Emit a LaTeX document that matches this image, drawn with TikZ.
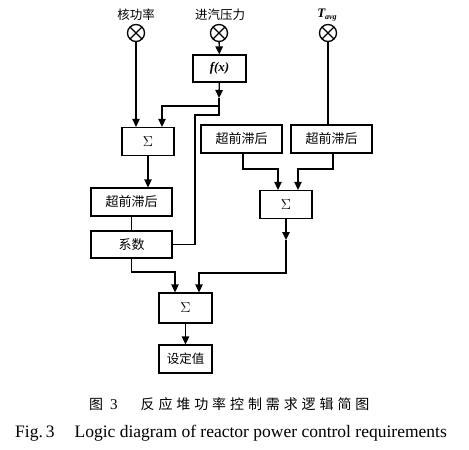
\documentclass[tikz,border=0pt]{standalone}
\usepackage{fontspec}
\setmainfont{Liberation Serif}
\newfontfamily\cjk{Noto Sans CJK SC}
\usetikzlibrary{arrows.meta}
\newcommand\cc[1]{\makebox[17.9pt]{#1}}
\begin{document}
\begin{tikzpicture}[x=1pt,y=-1pt,
  every node/.style={inner sep=0pt},
  line/.style={line width=1.3pt},
  arr/.style={line width=1.3pt,-{Triangle[length=8pt,width=7.5pt]}},
  blk/.style={draw,line width=1.3pt,minimum width=#1,minimum height=28pt,font=\cjk\fontsize{13}{13}\selectfont},
  blk/.default=52pt,
  lbl/.style={font=\cjk\fontsize{12.5}{12.5}\selectfont},
  sensor/.style={circle,draw,line width=1.3pt,minimum size=17pt,
    path picture={\draw[line width=1.3pt] (path picture bounding box.north west)--(path picture bounding box.south east)
      (path picture bounding box.north east)--(path picture bounding box.south west);}},
  sig/.style={font=\fontsize{14}{14}\selectfont}]
\useasboundingbox (0,0) rectangle (469,450);
% labels and sensors
\node[lbl] (l1) at (136,15) {核功率};
\node[lbl] (l2) at (220,15) {进汽压力};
\node (l3) at (327,15) {\fontsize{13}{13}\selectfont\bfseries\itshape T\raisebox{-2.5pt}{\fontsize{8}{8}\selectfont avg}};
\node[sensor] (s1) at (136,33) {};
\node[sensor] (s2) at (219,33) {};
\node[sensor] (s3) at (328,33) {};
% blocks
\node[draw,line width=1.3pt,minimum width=53pt,minimum height=27pt,font=\fontsize{13}{13}\selectfont\bfseries\itshape] (fx) at (219.5,68.5) {f(x)};
\node[blk,sig] (sum1) at (148,141.5) {$\Sigma$};
\node[blk=81pt] (lead1) at (131.5,202) {超前滞后};
\node[blk=81pt,minimum height=27pt] (coef) at (131.5,244.5) {系数};
\node[blk=81pt] (lead2) at (241.5,139) {超前滞后};
\node[blk=81pt] (lead3) at (331.5,139) {超前滞后};
\node[blk,sig] (sum2) at (286,204.5) {$\Sigma$};
\node[blk=53pt,sig,minimum height=30pt] (sum3) at (185.5,308) {$\Sigma$};
\node[blk=53pt,minimum height=28pt,font=\cjk\fontsize{12.5}{12.5}\selectfont] (set) at (185.5,359) {设定值};
% coordinates
\coordinate (a1) at (219,98);
\coordinate (a2) at (219,106);
\coordinate (a3) at (219,115);
\coordinate (a4) at (195,115);
\coordinate (a5) at (195,244.5);
\coordinate (b1) at (162,106);
\coordinate (c1) at (131.5,272);
\coordinate (c2) at (175,272);
\coordinate (d1) at (243,169);
\coordinate (d2) at (278,169);
\coordinate (e1) at (333,169);
\coordinate (e2) at (298,169);
\coordinate (g1) at (286,240);
\coordinate (g2) at (286,273);
\coordinate (g3) at (199,273);
% connectors
\draw[arr] (s1) -- (s1 |- sum1.north);
\draw[arr] (s2) -- (fx);
\draw[arr] (fx) -- (a1);
\draw[line] (a1) -- (a3) -- (a4) -- (a5) -- (coef.east);
\draw[arr] (a2) -- (b1) -- (b1 |- sum1.north);
\draw[arr] (sum1.south) -- (sum1.south |- lead1.north);
\draw[line] (lead1) -- (coef);
\draw[arr] (coef.south) -- (c1) -- (c2) -- (c2 |- sum3.north);
\draw[line] (s3) -- (s3 |- lead3.north);
\draw[arr] (lead2.south -| d1) -- (d1) -- (d2) -- (d2 |- sum2.north);
\draw[arr] (lead3.south -| e1) -- (e1) -- (e2) -- (e2 |- sum2.north);
\draw[arr] (sum2.south) -- (g1);
\draw[arr] (g1) -- (g2) -- (g3) -- (g3 |- sum3.north);
\draw[arr] (sum3) -- (set);
% captions
\node[anchor=west,font=\cjk\fontsize{14}{14}\selectfont] (cap1) at (89,404) {图\hspace{7pt}{\rmfamily\fontsize{15}{15}\selectfont 3}\hspace{21pt}\cc{反}\cc{应}\cc{堆}\cc{功}\cc{率}\cc{控}\cc{制}\cc{需}\cc{求}\cc{逻}\cc{辑}\cc{简}\cc{图}};
\node[anchor=west,font=\fontsize{17.5}{17.5}\selectfont] (cap2) at (15,433) {Fig.\,3\hspace{20pt}Logic diagram of reactor power control requirements};
\end{tikzpicture}
\end{document}
